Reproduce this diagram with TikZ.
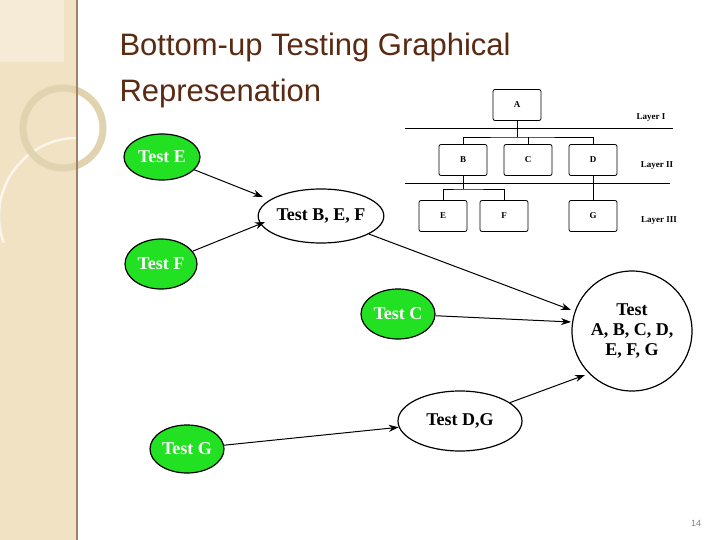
\documentclass[tikz,border=0pt]{standalone}
\usepackage{fontspec}
\setmainfont{Liberation Serif}
\setsansfont{Liberation Sans}
\usetikzlibrary{shapes.geometric,arrows.meta}
\definecolor{band}{HTML}{F0E2C2}
\definecolor{bandtop}{HTML}{F5EBD6}
\definecolor{ring}{HTML}{E2D3B0}
\definecolor{titlec}{HTML}{5A2A12}
\definecolor{gfill}{HTML}{22E022}
\begin{document}
\begin{tikzpicture}[x=1pt,y=-1pt,
  gn/.style={ellipse,draw=black,line width=1.2pt,fill=gfill,inner sep=0pt,text=white,font=\bfseries\fontsize{18}{20}\selectfont},
  wn/.style={ellipse,draw=black,line width=1.2pt,fill=white,inner sep=0pt,text=black,font=\bfseries\fontsize{18}{20}\selectfont},
  arr/.style={-{Stealth[length=10pt,width=7pt]},line width=1pt},
  hb/.style={draw=black,rounded corners=2pt,line width=0.8pt,minimum width=48pt,minimum height=31pt,font=\bfseries\fontsize{9}{10}\selectfont},
  lay/.style={font=\bfseries\fontsize{9}{10}\selectfont},
  hl/.style={line width=0.8pt}]
\useasboundingbox (0,0) rectangle (720,540);
\fill[white] (0,0) rectangle (720,540);
\fill[band] (0,0) rectangle (77,540);
\fill[bandtop] (0,0) rectangle (64,62);
\draw[white!70!band,line width=2.5pt] (77,138) arc[start angle=270,end angle=160,radius=78];
\draw[ring,line width=7pt] (63,128) circle[radius=40];
\draw[brown!60!black!70,line width=1.5pt] (77,0) -- (77,540);
\node[anchor=west,text=titlec,font=\sffamily\fontsize{31}{46}\selectfont,align=left] (title) at (116,70) {Bottom-up Testing Graphical\\Represenation};
% hierarchy
\node[hb] (A) at (517,105) {A};
\node[hb] (B) at (463,160) {B};
\node[hb] (C) at (528,160) {C};
\node[hb] (D) at (593,160) {D};
\node[hb] (E) at (443,216) {E};
\node[hb] (F) at (504,216) {F};
\node[hb] (G) at (593,216) {G};
\draw[hl] (405,128) -- (673,128);
\draw[hl] (405,183) -- (670,183);
\draw[hl] (A.south) -- (517,137) coordinate (j1);
\draw[hl] (B.north) |- (j1) -| (D.north);
\draw[hl] (C.north) -- (528,137);
\draw[hl] (B.south) -- (463,189) coordinate (j2);
\draw[hl] (E.north) |- (j2) -| (F.north);
\draw[hl] (D.south) -- (G.north);
\node[lay] (l1) at (651,118) {Layer I};
\node[lay] (l2) at (657,166) {Layer II};
\node[lay] (l3) at (659,221) {Layer III};
% ellipses
\node[gn,minimum width=76pt,minimum height=46pt] (tE) at (162,157) {Test E};
\node[wn,minimum width=120pt,minimum height=54pt] (tBEF) at (321,216) {Test B, E, F};
\node[gn,minimum width=72pt,minimum height=50pt] (tF) at (161,264) {Test F};
\node[gn,minimum width=74pt,minimum height=50pt] (tC) at (398,314) {Test C};
\node[wn,circle,minimum size=120pt,align=center,inner sep=0pt] (tAll) at (632,331) {Test\\A, B, C, D,\\E, F, G};
\node[wn,minimum width=124pt,minimum height=60pt] (tDG) at (460,421) {Test D,G};
\node[gn,minimum width=74pt,minimum height=48pt] (tG) at (187,449) {Test G};
\draw[arr] (tE) -- (263,197) coordinate (a1);
\draw[arr] (tF) -- (265,222) coordinate (a2);
\draw[arr] (tBEF) -- (571,310) coordinate (a3);
\draw[arr] (tC) -- (571,322) coordinate (a4);
\draw[arr] (tG) -- (tDG);
\draw[arr] (tDG) -- (585,375) coordinate (a5);
\node[text=gray,font=\sffamily\fontsize{9}{10}\selectfont] (pg) at (696,523) {14};
\end{tikzpicture}
\end{document}
